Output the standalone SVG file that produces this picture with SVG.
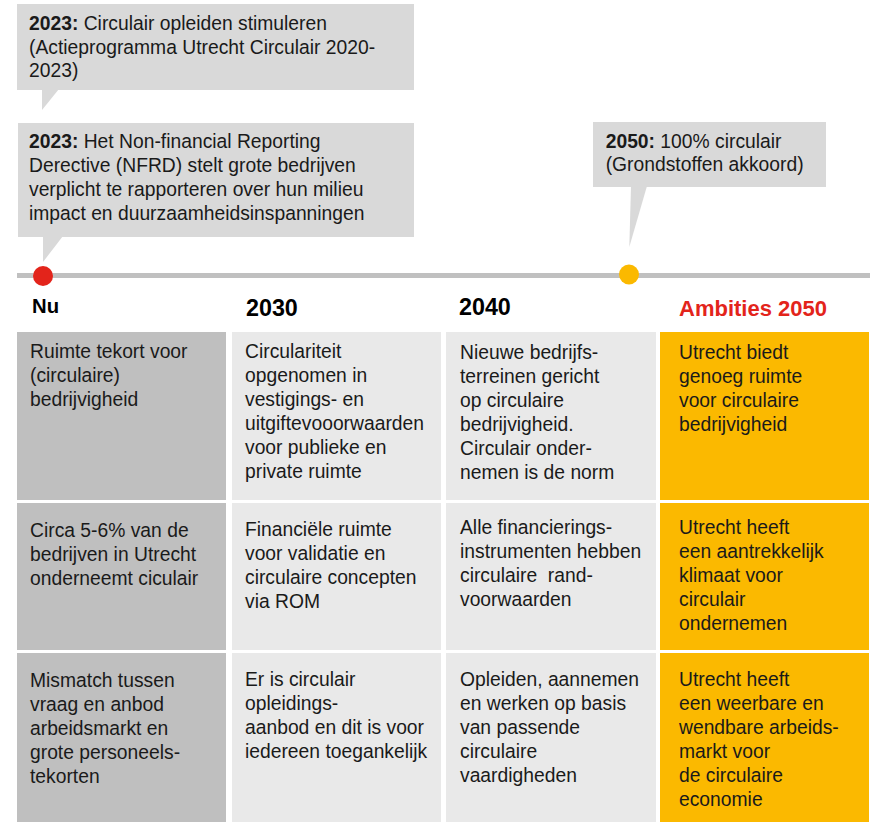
<svg xmlns="http://www.w3.org/2000/svg" width="875" height="822" viewBox="0 0 875 822">
<style>
.t{font-family:"Liberation Sans",Arial,sans-serif;font-size:19.3px;fill:#1a1a1a}
.b{font-weight:bold}
.h{font-family:"Liberation Sans",Arial,sans-serif;font-weight:bold;fill:#000}
.call{fill:#d9d9d9}
.c1{fill:#bfbfbf}
.c2{fill:#e9e9e9}
.c4{fill:#fbb900}
</style>
<rect width="875" height="822" fill="#fff"/>
<g id="connectors">
<line x1="17" y1="275.5" x2="870" y2="275.5" stroke="#c0c0c0" stroke-width="5"/>
</g>
<g id="callout-2023-opleiden">
<rect class="call" x="17" y="4" width="397" height="86"/>
<polygon class="call" points="42,89 59,89 42,110"/>
<text class="t" x="29" y="30"><tspan class="b">2023:</tspan> Circulair opleiden stimuleren</text>
<text class="t" x="29" y="53.7">(Actieprogramma Utrecht Circulair 2020-</text>
<text class="t" x="29" y="77.4">2023)</text>
</g>
<g id="callout-2023-nfrd">
<rect class="call" x="18" y="123" width="396" height="114"/>
<polygon class="call" points="43,236 63,236 43,262"/>
<text class="t" x="29" y="147.7"><tspan class="b">2023:</tspan> Het Non-financial Reporting</text>
<text class="t" x="29" y="171.7">Derective (NFRD) stelt grote bedrijven</text>
<text class="t" x="29" y="195.8">verplicht te rapporteren over hun milieu</text>
<text class="t" x="29" y="219.8">impact en duurzaamheidsinspanningen</text>
</g>
<g id="callout-2050">
<rect class="call" x="593" y="122" width="233" height="65"/>
<polygon class="call" points="631,186 647,186 629.3,247"/>
<text class="t" x="605.7" y="147.7"><tspan class="b">2050:</tspan> 100% circulair</text>
<text class="t" x="605.7" y="171.3">(Grondstoffen akkoord)</text>
</g>
<g id="dot-nu"><circle cx="43" cy="276" r="10" fill="#e3241b"/></g>
<g id="dot-2050"><circle cx="629" cy="274.5" r="10" fill="#fbb900"/></g>
<g id="headers">
<text class="h" x="32" y="313" font-size="20.3">Nu</text>
<text class="h" x="246" y="316" font-size="23.3">2030</text>
<text class="h" x="459" y="315.3" font-size="23.3">2040</text>
<text class="h" x="679" y="316" font-size="22" style="fill:#e3241b">Ambities 2050</text>
</g>
<g id="cell-nu-1">
<rect class="c1" x="17" y="332" width="209" height="168"/>
<text class="t" x="30" y="358">Ruimte tekort voor</text>
<text class="t" x="30" y="382">(circulaire)</text>
<text class="t" x="30" y="406">bedrijvigheid</text>
</g>
<g id="cell-2030-1">
<rect class="c2" x="232" y="332" width="209" height="168"/>
<text class="t" x="245" y="358">Circulariteit</text>
<text class="t" x="245" y="382">opgenomen in</text>
<text class="t" x="245" y="406">vestigings- en</text>
<text class="t" x="245" y="430">uitgiftevooorwaarden</text>
<text class="t" x="245" y="454">voor publieke en</text>
<text class="t" x="245" y="478">private ruimte</text>
</g>
<g id="cell-2040-1">
<rect class="c2" x="446" y="332" width="210" height="168"/>
<text class="t" x="460" y="358.5">Nieuwe bedrijfs-</text>
<text class="t" x="460" y="382.5">terreinen gericht</text>
<text class="t" x="460" y="406.5">op circulaire</text>
<text class="t" x="460" y="430.5">bedrijvigheid.</text>
<text class="t" x="460" y="454.5">Circulair onder-</text>
<text class="t" x="460" y="478.5">nemen is de norm</text>
</g>
<g id="cell-2050-1">
<rect class="c4" x="660" y="332" width="209" height="168"/>
<text class="t" x="679" y="358.5">Utrecht biedt</text>
<text class="t" x="679" y="382.5">genoeg ruimte</text>
<text class="t" x="679" y="406.5">voor circulaire</text>
<text class="t" x="679" y="430.5">bedrijvigheid</text>
</g>
<g id="cell-nu-2">
<rect class="c1" x="17" y="503" width="209" height="147"/>
<text class="t" x="30" y="536.5">Circa 5-6% van de</text>
<text class="t" x="30" y="560.5">bedrijven in Utrecht</text>
<text class="t" x="30" y="584.5">onderneemt ciculair</text>
</g>
<g id="cell-2030-2">
<rect class="c2" x="232" y="503" width="209" height="147"/>
<text class="t" x="245" y="535.5">Financiële ruimte</text>
<text class="t" x="245" y="559.5">voor validatie en</text>
<text class="t" x="245" y="583.5">circulaire concepten</text>
<text class="t" x="245" y="607.5">via ROM</text>
</g>
<g id="cell-2040-2">
<rect class="c2" x="446" y="503" width="210" height="147"/>
<text class="t" x="460" y="534.3">Alle financierings-</text>
<text class="t" x="460" y="558.3">instrumenten hebben</text>
<text class="t" x="460" y="582.3" xml:space="preserve">circulaire  rand-</text>
<text class="t" x="460" y="606.3">voorwaarden</text>
</g>
<g id="cell-2050-2">
<rect class="c4" x="660" y="503" width="209" height="147"/>
<text class="t" x="679" y="534.3">Utrecht heeft</text>
<text class="t" x="679" y="558.3">een aantrekkelijk</text>
<text class="t" x="679" y="582.3">klimaat voor</text>
<text class="t" x="679" y="606.3">circulair</text>
<text class="t" x="679" y="630.3">ondernemen</text>
</g>
<g id="cell-nu-3">
<rect class="c1" x="17" y="653" width="209" height="169"/>
<text class="t" x="30" y="686.5">Mismatch tussen</text>
<text class="t" x="30" y="710.5">vraag en anbod</text>
<text class="t" x="30" y="734.5">arbeidsmarkt en</text>
<text class="t" x="30" y="758.5">grote personeels-</text>
<text class="t" x="30" y="782.5">tekorten</text>
</g>
<g id="cell-2030-3">
<rect class="c2" x="232" y="653" width="209" height="169"/>
<text class="t" x="245" y="685.7">Er is circulair</text>
<text class="t" x="245" y="709.7">opleidings-</text>
<text class="t" x="245" y="733.7">aanbod en dit is voor</text>
<text class="t" x="245" y="757.7">iedereen toegankelijk</text>
</g>
<g id="cell-2040-3">
<rect class="c2" x="446" y="653" width="210" height="169"/>
<text class="t" x="460" y="686">Opleiden, aannemen</text>
<text class="t" x="460" y="710">en werken op basis</text>
<text class="t" x="460" y="734">van passende</text>
<text class="t" x="460" y="758">circulaire</text>
<text class="t" x="460" y="782">vaardigheden</text>
</g>
<g id="cell-2050-3">
<rect class="c4" x="660" y="653" width="209" height="169"/>
<text class="t" x="679" y="686">Utrecht heeft</text>
<text class="t" x="679" y="710">een weerbare en</text>
<text class="t" x="679" y="734">wendbare arbeids-</text>
<text class="t" x="679" y="758">markt voor</text>
<text class="t" x="679" y="782">de circulaire</text>
<text class="t" x="679" y="806">economie</text>
</g>
</svg>
